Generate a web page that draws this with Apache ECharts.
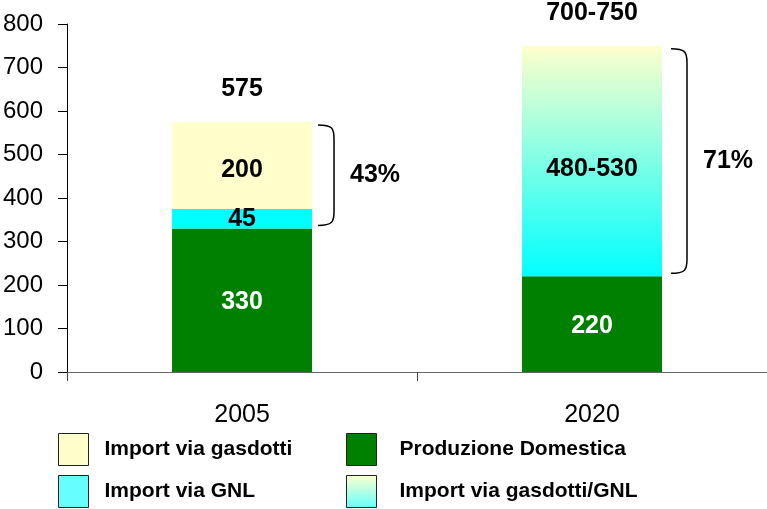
<!DOCTYPE html>
<html>
<head>
<meta charset="utf-8">
<script src="https://cdn.jsdelivr.net/npm/echarts@6/dist/echarts.min.js"></script>
<style>html,body{margin:0;padding:0;background:#fff;}#c{width:767px;height:509px;}</style>
</head>
<body>
<div id="c"></div>
<script>
const categories = ['2005', '2020'];
const domestic = [330, 220];
const lng = [45, null];
const pipeline = [200, null];
const pipelineLng = [null, 530];
const pipelineLngLabels = ['', '480-530'];
const totals = [575, 750];
const totalLabels = ['575', '700-750'];
const braceLow = [330, 220];
const braceHigh = [575, 750];
const bracePct = ['43%', '71%'];
const yTicks = [0, 100, 200, 300, 400, 500, 600, 700, 800];

const FONT = '"Liberation Sans", Arial, sans-serif';
const chart = echarts.init(document.getElementById('c'), null, {renderer: 'canvas'});

const gradient = {
  type: 'linear', x: 0, y: 0, x2: 0, y2: 1,
  colorStops: [{offset: 0, color: '#FFFFCC'}, {offset: 1, color: '#00FFFF'}]
};
const legendGradient = {
  type: 'linear', x: 0, y: 0, x2: 0, y2: 1,
  colorStops: [{offset: 0, color: '#FFFFCC'}, {offset: 1, color: '#66FFFF'}]
};
const barLabel = (color, dy) => ({
  show: true, position: 'inside', color: color, fontFamily: FONT,
  fontWeight: 'bold', fontSize: 25, offset: [0, dy || 0]
});

const annoData = categories.map((c, i) => [i, braceLow[i], braceHigh[i], totals[i]]);

chart.setOption({
  animation: false,
  backgroundColor: '#fff',
  grid: {left: 67, right: 0, top: 24, bottom: 137},
  xAxis: {
    type: 'category', data: categories,
    axisLine: {lineStyle: {color: '#666', width: 1}},
    axisTick: {show: true, length: 9, lineStyle: {color: '#444'}},
    axisLabel: {color: '#000', fontFamily: FONT, fontSize: 25, margin: 31}
  },
  yAxis: {
    type: 'value', min: yTicks[0], max: yTicks[yTicks.length - 1], interval: 100,
    axisLine: {show: true, lineStyle: {color: '#000', width: 1}},
    axisTick: {show: true, length: 9, lineStyle: {color: '#000'}},
    axisLabel: {color: '#000', fontFamily: FONT, fontSize: 24, margin: 24},
    splitLine: {show: false}
  },
  legend: [
    {
      orient: 'vertical', left: 58, top: 433, padding: 0, itemWidth: 30, itemHeight: 32, itemGap: 9,
      icon: 'rect',
      itemStyle: {borderColor: '#222', borderWidth: 1},
      textStyle: {fontFamily: FONT, fontWeight: 'bold', fontSize: 21, color: '#000', padding: [2, 0, 0, 11]},
      data: [
        {name: 'Import via gasdotti'},
        {name: 'Import via GNL', itemStyle: {color: '#66FFFF'}}
      ]
    },
    {
      orient: 'vertical', left: 346, top: 433, padding: 0, itemWidth: 30, itemHeight: 32, itemGap: 9,
      icon: 'rect',
      itemStyle: {borderColor: '#222', borderWidth: 1},
      textStyle: {fontFamily: FONT, fontWeight: 'bold', fontSize: 21, color: '#000', padding: [2, 0, 0, 18]},
      data: [
        {name: 'Produzione Domestica'},
        {name: 'Import via gasdotti/GNL', itemStyle: {color: legendGradient}}
      ]
    }
  ],
  series: [
    {
      name: 'Produzione Domestica', type: 'bar', stack: 'tot', barWidth: '40%',
      data: domestic, itemStyle: {color: '#008000'}, label: barLabel('#fff', 2)
    },
    {
      name: 'Import via GNL', type: 'bar', stack: 'tot', barWidth: '40%',
      data: lng, itemStyle: {color: '#00FFFF'}, label: barLabel('#000', 0)
    },
    {
      name: 'Import via gasdotti', type: 'bar', stack: 'tot', barWidth: '40%',
      data: pipeline, itemStyle: {color: '#FFFFCC'}, label: barLabel('#000', 5)
    },
    {
      name: 'Import via gasdotti/GNL', type: 'bar', stack: 'tot', barWidth: '40%',
      data: pipelineLng, itemStyle: {color: gradient},
      label: Object.assign(barLabel('#000', 8), {formatter: (p) => pipelineLngLabels[p.dataIndex]})
    },
    {
      name: 'annotations', type: 'custom', silent: true, data: annoData,
      renderItem: function (params, api) {
        const cat = api.value(0);
        const lo = api.value(1);
        const hi = api.value(2);
        const tot = api.value(3);
        const pTop = api.coord([cat, hi]);
        const pBot = api.coord([cat, lo]);
        const pTot = api.coord([cat, tot]);
        const band = api.size([1, 0])[0];
        const barRight = pTop[0] + band * 0.2;
        const x0 = barRight + 6 + params.dataIndex * 3;
        const x1 = x0 + 16;
        const yt = pTop[1] + 3;
        const yb = pBot[1] - 3;
        const r = 14;
        const d = 'M' + x0 + ' ' + yt +
          ' C' + (x1 - 2) + ' ' + yt + ' ' + x1 + ' ' + (yt + 3) + ' ' + x1 + ' ' + (yt + r) +
          ' L' + x1 + ' ' + (yb - r) +
          ' C' + x1 + ' ' + (yb - 3) + ' ' + (x1 - 2) + ' ' + yb + ' ' + x0 + ' ' + yb;
        return {
          type: 'group',
          children: [
            {
              type: 'path',
              shape: {pathData: d},
              style: {fill: null, stroke: '#000', lineWidth: 1.5}
            },
            {
              type: 'text',
              style: {
                x: x1 + 16, y: (yt + yb) / 2,
                text: bracePct[params.dataIndex],
                fill: '#000', font: 'bold 25px ' + FONT,
                verticalAlign: 'middle', align: 'left'
              }
            },
            {
              type: 'text',
              style: {
                x: pTot[0], y: pTot[1] - 33,
                text: totalLabels[params.dataIndex],
                fill: '#000', font: 'bold 25px ' + FONT,
                verticalAlign: 'middle', align: 'center'
              }
            }
          ]
        };
      }
    }
  ]
});
</script>
</body>
</html>
